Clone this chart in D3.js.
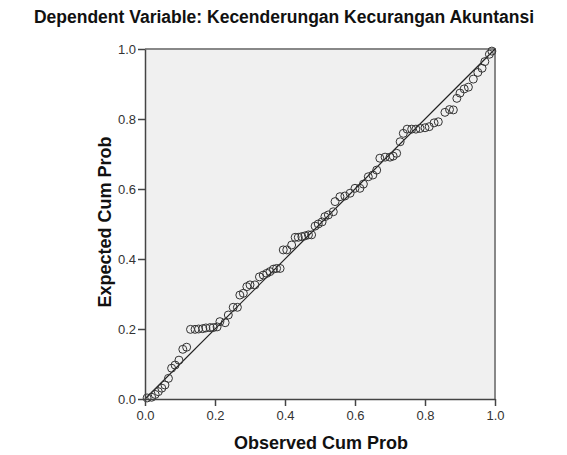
<!DOCTYPE html>
<html lang="en">
    <head>
        <meta charset="utf-8">
        <title>P-P Plot</title>
        <script src="https://d3js.org/d3.v7.min.js"></script>
        <style type="text/css">
            body { margin: 0; background: #fff; }

            .axis path,
            .axis line {
                stroke: #444;
                stroke-width: 1.5px;
            }

            .axis text {
                font-family: "Liberation Sans", Arial, sans-serif;
                font-size: 13px;
                fill: #333;
            }

            .title, .axis-title {
                font-family: "Liberation Sans", Arial, sans-serif;
                font-weight: bold;
                fill: #111;
            }

            .dot {
                fill: none;
                stroke: #333;
                stroke-width: 1px;
            }

            .line {
                fill: none;
                stroke: #222;
                stroke-width: 1.2px;
            }
        </style>
    </head>
    <body>
        <script type="text/javascript">

            const w = 567;
            const h = 455;

            const titleText = "Dependent Variable: Kecenderungan Kecurangan Akuntansi";
            const xLabel = "Observed Cum Prob";
            const yLabel = "Expected Cum Prob";
            const tickValues = [0.0, 0.2, 0.4, 0.6, 0.8, 1.0];

            // points
            const observed = [0.006, 0.019, 0.029, 0.038, 0.048, 0.057, 0.067, 0.076, 0.086, 0.097,
                0.108, 0.119, 0.130, 0.143, 0.153, 0.165, 0.174, 0.186, 0.195, 0.206,
                0.214, 0.229, 0.238, 0.252, 0.264, 0.271, 0.281, 0.291, 0.300, 0.314,
                0.327, 0.338, 0.348, 0.357, 0.367, 0.376, 0.386, 0.395, 0.405, 0.419,
                0.429, 0.438, 0.448, 0.457, 0.467, 0.476, 0.486, 0.495, 0.506, 0.514,
                0.524, 0.538, 0.543, 0.557, 0.571, 0.586, 0.600, 0.614, 0.624, 0.638,
                0.651, 0.662, 0.671, 0.686, 0.700, 0.709, 0.719, 0.729, 0.738, 0.749,
                0.762, 0.774, 0.786, 0.800, 0.812, 0.826, 0.838, 0.857, 0.870, 0.881,
                0.891, 0.900, 0.912, 0.924, 0.938, 0.951, 0.963, 0.971, 0.984, 0.991];
            const expected = [0.003, 0.005, 0.013, 0.021, 0.031, 0.040, 0.059, 0.088, 0.097, 0.111,
                0.142, 0.148, 0.199, 0.199, 0.200, 0.201, 0.203, 0.204, 0.204, 0.206,
                0.221, 0.218, 0.240, 0.262, 0.262, 0.297, 0.302, 0.321, 0.326, 0.326,
                0.349, 0.354, 0.359, 0.364, 0.371, 0.373, 0.373, 0.426, 0.426, 0.440,
                0.462, 0.462, 0.464, 0.466, 0.469, 0.469, 0.494, 0.500, 0.506, 0.521,
                0.526, 0.535, 0.564, 0.578, 0.580, 0.588, 0.602, 0.602, 0.614, 0.635,
                0.640, 0.654, 0.688, 0.691, 0.691, 0.694, 0.702, 0.735, 0.759, 0.771,
                0.771, 0.771, 0.773, 0.775, 0.778, 0.789, 0.792, 0.819, 0.827, 0.826,
                0.859, 0.874, 0.886, 0.891, 0.914, 0.933, 0.945, 0.964, 0.985, 0.994];

            const plotLeft = 145, plotRight = 495, plotTop = 49, plotBottom = 399;

            const xScale = d3.scaleLinear().domain([0, 1]).range([plotLeft, plotRight]);
            const yScale = d3.scaleLinear().domain([0, 1]).range([plotBottom, plotTop]);

            const svg = d3.select("body").append("svg").attr("width", w).attr("height", h);

            // plot background
            svg.append("rect")
                .attr("x", plotLeft).attr("y", plotTop)
                .attr("width", plotRight - plotLeft).attr("height", plotBottom - plotTop)
                .attr("fill", "#f0f0f0");

            // top + right frame
            svg.append("path")
                .attr("d", `M${plotLeft},${plotTop}H${plotRight}V${plotBottom}`)
                .attr("fill", "none")
                .attr("stroke", "#888")
                .attr("stroke-width", 2);

            // reference line
            svg.append("line")
                .attr("class", "line")
                .attr("x1", xScale(0)).attr("y1", yScale(0))
                .attr("x2", xScale(1)).attr("y2", yScale(1));

            const data = observed.map((o, i) => ({ x: o, y: expected[i] }));

            svg.selectAll(".dot")
                .data(data)
                .enter()
                .append("circle")
                .attr("class", "dot")
                .attr("cx", d => xScale(d.x))
                .attr("cy", d => yScale(d.y))
                .attr("r", 4);

            const bottomAxis = d3.axisBottom(xScale).tickValues(tickValues).tickFormat(d3.format(".1f")).tickSize(7).tickSizeOuter(0).tickPadding(5);
            svg.append("g")
                .attr("class", "axis")
                .attr("transform", "translate(0," + plotBottom + ")")
                .call(bottomAxis);

            const leftAxis = d3.axisLeft(yScale).tickValues(tickValues).tickFormat(d3.format(".1f")).tickSize(7).tickSizeOuter(0).tickPadding(2);
            svg.append("g")
                .attr("class", "axis")
                .attr("transform", "translate(" + plotLeft + ",0)")
                .call(leftAxis);

            svg.append("text")
                .attr("class", "title")
                .attr("x", 284).attr("y", 23)
                .attr("text-anchor", "middle")
                .style("font-size", "17.5px")
                .text(titleText);

            svg.append("text")
                .attr("class", "axis-title")
                .attr("x", 321).attr("y", 449)
                .attr("text-anchor", "middle")
                .style("font-size", "18px")
                .text(xLabel);

            svg.append("text")
                .attr("class", "axis-title")
                .attr("transform", "translate(111,222) rotate(-90)")
                .attr("text-anchor", "middle")
                .style("font-size", "18px")
                .text(yLabel);
        </script>
    </body>
</html>
